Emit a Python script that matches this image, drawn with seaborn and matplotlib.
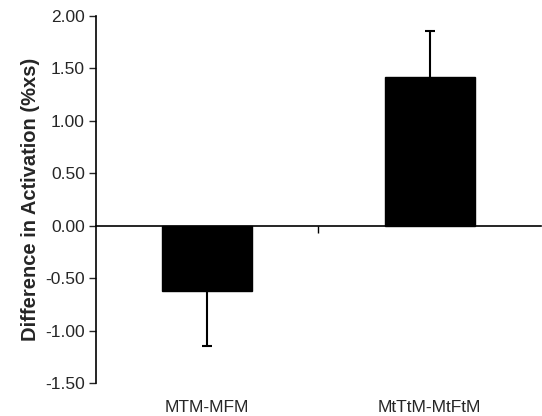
import numpy as np
import pandas as pd
import matplotlib
matplotlib.use("Agg")
import matplotlib.pyplot as plt
import seaborn as sns

sns.set_style("white")
plt.rcParams['font.family'] = ['Liberation Sans', 'DejaVu Sans']

categories = ["MTM-MFM", "MtTtM-MtFtM"]
values = [-0.62, 1.42]
err_low = [0.53, 0.0]
err_high = [0.0, 0.44]
yticks = [-1.5, -1.0, -0.5, 0.0, 0.5, 1.0, 1.5, 2.0]

df = pd.DataFrame({"cond": categories, "diff": values})

fig = plt.figure(figsize=(5.42, 4.16), dpi=100)
ax = fig.add_axes([0.177, 0.0793, 0.821, 0.8822])

sns.barplot(data=df, x="cond", y="diff", color="black", width=0.405,
            saturation=1, errorbar=None, edgecolor="black", ax=ax)

# one-sided error bars: whisker plus a cap only at the outer end
xpos = np.arange(len(values))
ax.errorbar(xpos, values, yerr=[err_low, err_high],
            fmt="none", ecolor="black", elinewidth=1.5, capsize=0)
ends = np.array(values) + np.array(err_high) - np.array(err_low)
ax.plot(xpos, ends, linestyle="none", marker="_", markersize=6.5,
        markeredgewidth=1.5, color="black")

ax.set_ylim(-1.5, 2.0)
ax.set_xlim(-0.5, 1.5)
ax.set_yticks(yticks)
ax.set_yticklabels(["%.2f" % t for t in yticks], fontsize=12.5)
ax.tick_params(axis="y", direction="out", length=5, width=1, left=True, pad=3)
ax.tick_params(axis="x", length=0, labelsize=12.5, pad=12)
ax.set_xlabel("")
ax.set_ylabel("Difference in Activation (%xs)", fontsize=14.5, fontweight="bold", labelpad=4)

for s in ["top", "right", "bottom"]:
    ax.spines[s].set_visible(False)
ax.spines["left"].set_color("black")
ax.spines["left"].set_linewidth(1.2)

# zero line with the category divider tick
sec = ax.secondary_xaxis(1.5 / 3.5)
sec.set_xticks([0.5])
sec.set_xticklabels([])
sec.tick_params(direction="out", length=5, width=1, colors="black")
sec.spines["bottom"].set_color("black")
sec.spines["bottom"].set_linewidth(1.2)

fig.savefig("out.png", dpi=100, facecolor="white")
